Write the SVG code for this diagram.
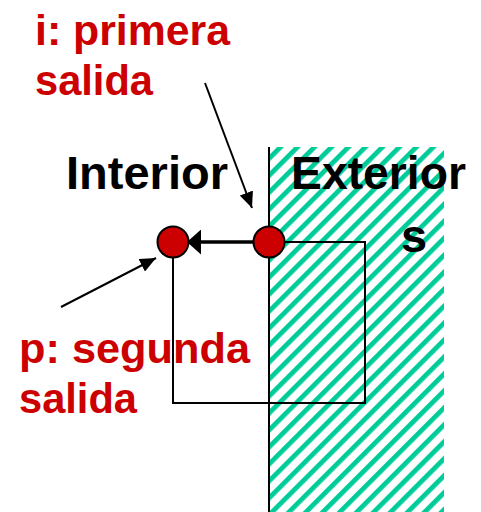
<svg xmlns="http://www.w3.org/2000/svg" width="481" height="512" viewBox="0 0 481 512">
<style>
.lbl{font-family:"Liberation Sans",Arial,sans-serif;font-weight:bold;font-size:43px;fill:#cc0000}
.big{font-family:"Liberation Sans",Arial,sans-serif;font-weight:bold;font-size:47px;fill:#000}
.edge{fill:none;stroke:#000;stroke-width:2}
.ptr{fill:none;stroke:#000;stroke-width:2}
.main{fill:none;stroke:#000;stroke-width:3.5}
.node{fill:#cc0000;stroke:#000;stroke-width:2}
</style>
<defs>
<pattern id="hatch" patternUnits="userSpaceOnUse" width="12" height="12" patternTransform="rotate(45)">
<rect x="0" y="0" width="4.8" height="12" fill="#00cc99"/>
</pattern>
<marker id="ah" markerUnits="userSpaceOnUse" markerWidth="16" markerHeight="14" refX="16" refY="7" orient="auto">
<path d="M0,0 L16,7 L0,14 z" fill="#000"/>
</marker>
<marker id="ahm" markerUnits="userSpaceOnUse" markerWidth="14" markerHeight="25" refX="6" refY="12.5" orient="auto">
<path d="M0,0 L14,12.5 L0,25 z" fill="#000"/>
</marker>
</defs>
<rect width="481" height="512" fill="#fff"/>
<g id="exterior-region">
<rect x="269" y="147" width="175" height="365" fill="url(#hatch)"/>
<line x1="269" y1="147" x2="269" y2="512" stroke="#000" stroke-width="2"/>
</g>
<g id="connectors">
<path class="edge" d="M269,242 H365 V403 H173 V242"/>
<path class="ptr" d="M205,83 L252,208" marker-end="url(#ah)"/>
<path class="ptr" d="M61,307 L156,258" marker-end="url(#ah)"/>
</g>
<g id="node-p"><circle class="node" cx="173" cy="242" r="15.5"/></g>
<g id="node-i"><circle class="node" cx="269" cy="242" r="15.5"/></g>
<g id="main-arrow">
<path class="main" d="M253,242 H195" marker-end="url(#ahm)"/>
</g>
<g id="labels">
<text class="lbl" x="35" y="45" textLength="195" lengthAdjust="spacingAndGlyphs">i: primera</text>
<text class="lbl" x="35" y="95" textLength="118" lengthAdjust="spacingAndGlyphs">salida</text>
<text class="lbl" x="19" y="363" textLength="231" lengthAdjust="spacingAndGlyphs">p: segunda</text>
<text class="lbl" x="19" y="413" textLength="118" lengthAdjust="spacingAndGlyphs">salida</text>
<text class="big" x="66" y="189" textLength="162" lengthAdjust="spacingAndGlyphs">Interior</text>
<text class="big" x="291" y="189" textLength="175" lengthAdjust="spacingAndGlyphs">Exterior</text>
<text class="big" x="401" y="252">s</text>
</g>
</svg>
